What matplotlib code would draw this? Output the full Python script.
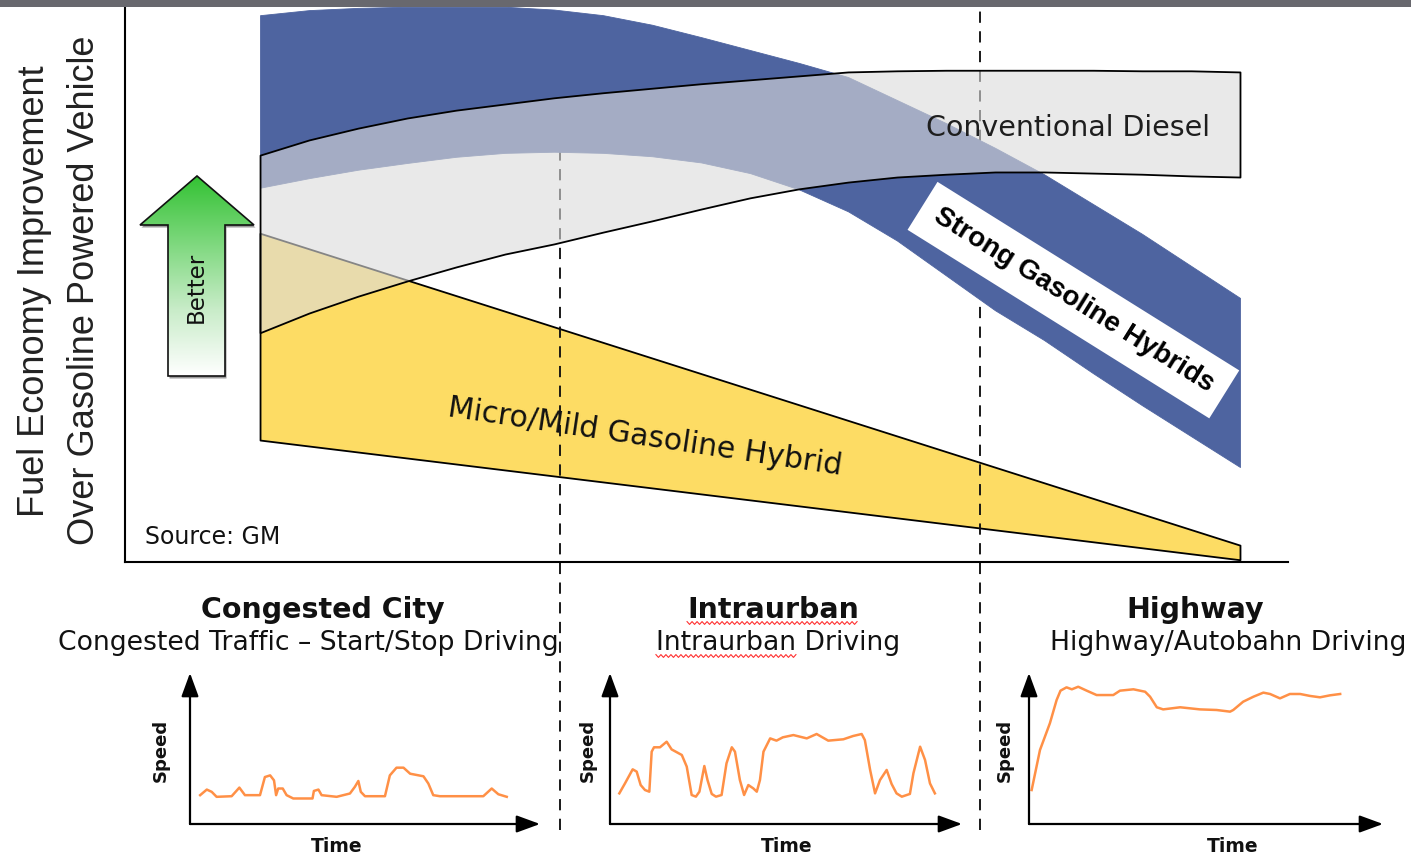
import numpy as np
import matplotlib
matplotlib.use("Agg")
import matplotlib.pyplot as plt
from matplotlib.patches import Polygon, Rectangle
from matplotlib.colors import LinearSegmentedColormap
from matplotlib.font_manager import FontProperties

W, H, DPI = 1411, 860, 100

# ---------------------------------------------------------------------------
# Fuel-economy bands over the driving cycle (0 = start/stop city, 100 = highway)
# ---------------------------------------------------------------------------
cycle_pos = np.arange(0, 101, 5)

strong_hybrid_upper = [97.3, 98.2, 98.6, 98.8, 98.8, 98.8, 98.3, 97.3, 95.6, 93.4,
                       91.1, 88.8, 86.3, 82.2, 78.1, 73.7, 69.0, 63.7, 58.4, 52.7, 47.0]
strong_hybrid_lower = [66.6, 68.3, 69.8, 71.0, 72.1, 72.8, 73.0, 72.8, 72.2, 71.1,
                       69.2, 66.3, 62.4, 57.2, 51.0, 44.8, 39.5, 33.6, 27.9, 22.4, 16.9]

diesel_upper = [72.4, 75.1, 77.2, 79.0, 80.4, 81.5, 82.6, 83.5, 84.3, 85.1,
                85.8, 86.5, 87.2, 87.4, 87.5, 87.5, 87.5, 87.5, 87.4, 87.4, 87.2]
diesel_lower = [40.8, 44.3, 47.3, 50.0, 52.5, 54.8, 56.6, 58.7, 60.7, 62.8,
                64.8, 66.4, 67.6, 68.5, 69.0, 69.4, 69.4, 69.2, 69.0, 68.7, 68.5]

mild_pos = [0, 100]
mild_upper = [58.5, 3.0]
mild_lower = [21.7, 0.4]

# boundaries between the three driving regimes
zone_edges = [30.6, 73.5]

zone_titles = ["Congested City", "Intraurban", "Highway"]
zone_subtitles = ["Congested Traffic \u2013 Start/Stop Driving",
                  "Intraurban Driving", "Highway/Autobahn Driving"]

# ---------------------------------------------------------------------------
# Typical speed traces for each regime (time %, speed %)
# ---------------------------------------------------------------------------
city_time = [2.9, 4.8, 6.2, 7.6, 11.9, 14.1, 15.7, 20.0, 21.4, 22.9,
             24.0, 24.6, 25.2, 26.5, 27.6, 29.5, 35.0, 35.4, 36.7, 37.6,
             41.9, 45.7, 47.1, 48.1, 48.8, 50.0, 55.7, 57.1, 59.0, 61.0,
             62.9, 66.7, 68.1, 69.5, 71.4, 83.8, 86.2, 88.1, 90.5]
city_speed = [19.1, 22.8, 21.3, 18.0, 18.4, 24.1, 19.1, 19.1, 31.1, 32.2,
              28.9, 19.1, 23.5, 23.5, 19.1, 16.9, 16.9, 21.9, 22.8, 19.1,
              18.0, 20.2, 24.6, 28.5, 21.3, 18.4, 18.4, 32.2, 37.3, 37.3,
              33.3, 31.6, 26.8, 19.1, 18.4, 18.4, 23.5, 19.7, 18.0]

urban_time = [2.65, 4.26, 6.44, 7.58, 8.71, 9.94, 11.17, 11.84, 12.5, 14.2,
              16.1, 17.5, 20.4, 21.8, 23.2, 24.4, 25.4, 26.8, 27.7, 28.9,
              30.1, 31.7, 33.1, 34.6, 35.5, 36.9, 38.1, 39.3, 40.7, 41.7,
              42.6, 43.6, 45.5, 47.3, 49.1, 52.1, 55.9, 58.7, 62.0, 66.3,
              69.1, 71.5, 72.4, 73.9, 75.3, 76.7, 78.6, 80.0, 81.4, 82.9,
              85.2, 86.2, 88.1, 89.5, 90.9, 92.3]
urban_speed = [20.3, 26.9, 36.2, 34.7, 25.8, 22.5, 21.4, 47.9, 50.8, 50.8,
               54.5, 49.4, 45.7, 38.0, 19.2, 18.1, 21.4, 38.4, 29.1, 19.9,
               18.1, 19.2, 40.2, 50.8, 47.9, 29.1, 19.2, 25.8, 23.6, 21.4,
               29.1, 47.9, 56.7, 55.2, 57.4, 58.9, 56.7, 59.6, 55.2, 56.1,
               58.3, 59.6, 55.6, 35.8, 20.3, 29.1, 35.8, 26.5, 20.3, 18.1,
               19.9, 33.6, 51.2, 42.4, 26.9, 20.3]

highway_time = [0.75, 3.1, 5.9, 7.8, 8.9, 10.6, 12.1, 13.9, 16.3, 19.1,
                23.8, 25.7, 29.5, 32.8, 34.2, 36.1, 37.9, 42.7, 48.3, 53.0,
                56.8, 57.7, 60.5, 63.4, 66.2, 68.1, 70.9, 73.7, 76.6, 79.4,
                82.2, 85.0, 87.9]
highway_speed = [22.5, 49.0, 66.7, 82.1, 88.3, 90.5, 89.2, 90.9, 88.3, 85.4,
                 85.4, 88.3, 89.2, 87.6, 84.3, 77.3, 75.9, 77.3, 75.9, 75.5,
                 74.4, 75.5, 81.0, 84.3, 87.0, 86.1, 83.2, 86.1, 86.1, 84.8,
                 83.9, 85.2, 86.1]

# ---------------------------------------------------------------------------
BLUE = "#4e64a0"
YELLOW = "#fddc64"
DIESEL = (0.858, 0.858, 0.858, 0.61)
ORANGE = "#ff8a3c"

fig = plt.figure(figsize=(W / DPI, H / DPI), dpi=DPI, facecolor="white")


def frac_x(px):
    return px / W


def frac_y(py):
    return 1 - py / H


# ---------------- main chart ----------------
ax = fig.add_axes([frac_x(125), frac_y(562), (1288 - 125) / W, 562 / H])
ax.set_xlim(-13.78, 104.9)
ax.set_ylim(0, 100)
for side in ("top", "right"):
    ax.spines[side].set_visible(False)
for side in ("left", "bottom"):
    ax.spines[side].set_linewidth(1.5)
    ax.spines[side].set_color("black")
ax.set_xticks([])
ax.set_yticks([])

ax.fill_between(mild_pos, mild_lower, mild_upper, facecolor=YELLOW,
                edgecolor="black", linewidth=1.3, zorder=1)

for xe in zone_edges:
    ax.axvline(xe, ymin=-0.477, ymax=0.99, color="#111111", lw=1.35,
               linestyle=(0, (6, 4.5)), clip_on=False, zorder=1.5)

ax.fill_between(cycle_pos, strong_hybrid_lower, strong_hybrid_upper,
                facecolor=BLUE, edgecolor=BLUE, linewidth=0.6, zorder=2)
ax.fill_between(cycle_pos, diesel_lower, diesel_upper, facecolor=DIESEL,
                edgecolor="black", linewidth=1.3, zorder=3)

ax.text(82.4, 77.2, "Conventional Diesel", ha="center", va="center",
        fontsize=20.5, color="#1e1e1e", zorder=5)
ax.text(39.3, 22.2, "Micro/Mild Gasoline Hybrid", ha="center", va="center",
        fontsize=21.5, rotation=-8.5, rotation_mode="anchor", color="#111111",
        zorder=5)
ax.text(83.0, 46.6, "Strong Gasoline Hybrids", ha="center", va="center",
        fontsize=20, fontweight="bold", family="Liberation Sans",
        rotation=-32, rotation_mode="anchor", color="black", zorder=5,
        bbox=dict(boxstyle="square,pad=0.55", facecolor="white",
                  edgecolor="none"))
ax.text(-11.7, 4.4, "Source: GM", ha="left", va="center", fontsize=17,
        color="#111111", zorder=5)

# axis title
fig.text(frac_x(35), frac_y(291), "Fuel Economy Improvement", rotation=90,
         ha="center", va="center", fontsize=26, family="Liberation Sans",
         color="#222222")
fig.text(frac_x(85), frac_y(290), "Over Gasoline Powered Vehicle", rotation=90,
         ha="center", va="center", fontsize=26, family="Liberation Sans",
         color="#222222")

# ---------------- regime headings ----------------
title_x = [323, 773, 1195]
subtitle_x = [308, 778, 1228]
SUB_SIZE = 19.2
title_objs, sub_objs = [], []
for tx, sx, t, s in zip(title_x, subtitle_x, zone_titles, zone_subtitles):
    title_objs.append(fig.text(frac_x(tx), frac_y(618), t, ha="center",
                               va="baseline", fontsize=20.5, fontweight="bold",
                               color="#111111"))
    sub_objs.append(fig.text(frac_x(sx), frac_y(650), s, ha="center",
                             va="baseline", fontsize=SUB_SIZE,
                             color="#111111"))

# ---------------- speed-trace panels ----------------
panels = [
    ((190, 540, 824, 673), city_time, city_speed, 0.42, -29),
    ((610, 962, 824, 673), urban_time, urban_speed, 0.503, -22),
    ((1029, 1383, 824, 673), highway_time, highway_speed, 0.576, -24),
]
arrow_style = dict(arrowstyle="-|>,head_length=0.6,head_width=0.22",
                   lw=1.6, color="black", shrinkA=0, shrinkB=0,
                   mutation_scale=24)
for (left, right, bottom, top), t, v, time_x, speed_dx in panels:
    pa = fig.add_axes([frac_x(left), frac_y(bottom), (right - left) / W,
                       (bottom - top) / H])
    pa.set_xlim(0, 100)
    pa.set_ylim(0, 100)
    pa.axis("off")
    pa.patch.set_alpha(0)
    pa.plot(t, v, color=ORANGE, lw=1.8, solid_joinstyle="round", alpha=0.95)
    pa.annotate("", xy=(0, 1), xytext=(0, 0), xycoords="axes fraction",
                arrowprops=arrow_style)
    pa.annotate("", xy=(1, 0), xytext=(0, 0), xycoords="axes fraction",
                arrowprops=arrow_style)
    pa.text(time_x, -0.152, "Time", transform=pa.transAxes, ha="center",
            va="center", fontsize=13.5, fontweight="bold", color="#111111")
    pa.annotate("Speed", xy=(0, 0.49), xycoords="axes fraction",
                xytext=(speed_dx, 0), textcoords="offset pixels", rotation=90,
                ha="center", va="center", fontsize=13, fontweight="bold",
                color="#111111")

# ---------------- overlay: header bar and "Better" arrow ----------------
deco = fig.add_axes([0, 0, 1, 1], zorder=10)
deco.axis("off")
deco.patch.set_alpha(0)

arrow_pts = [(197, 176), (254, 225), (225, 225), (225, 376), (168, 376),
             (168, 225), (140, 225)]
shadow = Polygon([(x + 1.5, y + 2.5) for x, y in arrow_pts], closed=True,
                 facecolor="#9a9a9a", edgecolor="none", zorder=0.2)
deco.add_patch(shadow)
green_cmap = LinearSegmentedColormap.from_list(
    "better", ["#34c234", "#7dd87d", "#c8ecc8", "#ffffff"])
grad = np.linspace(0, 1, 256)[:, None]
img = deco.imshow(grad, extent=(140, 254, 376, 176), cmap=green_cmap,
                  aspect="auto", interpolation="bilinear", zorder=0.5)
outline = Polygon(arrow_pts, closed=True, facecolor="none",
                  edgecolor="#111111", linewidth=1.2, zorder=0.8)
deco.add_patch(outline)
img.set_clip_path(outline)
deco.text(196, 287, "Better", rotation=90, ha="center", va="center",
          fontsize=16.5, color="#111111", zorder=1)

deco.add_patch(Rectangle((0, 0), W, 7, facecolor="#68686e", edgecolor="none",
                         zorder=3))
deco.set_xlim(0, W)
deco.set_ylim(H, 0)

# spell-check style squiggles under the word "Intraurban"
fig.canvas.draw()
renderer = fig.canvas.get_renderer()


def squiggle(x0, x1, y):
    xs = np.arange(x0, x1 + 0.1, 2.5)
    ys = y + 1.4 * np.where(np.arange(len(xs)) % 2 == 0, -1, 1)
    deco.plot(xs, ys, color="#ff3030", lw=0.8)


bb = title_objs[1].get_window_extent(renderer)
squiggle(bb.x0, bb.x1, 623)
bb = sub_objs[1].get_window_extent(renderer)
fp = FontProperties(size=SUB_SIZE)
wpx, _, _ = renderer.get_text_width_height_descent("Intraurban", fp,
                                                   ismath=False)
squiggle(bb.x0, bb.x0 + wpx, 656)
deco.set_xlim(0, W)
deco.set_ylim(H, 0)

fig.savefig("out.png", dpi=DPI, facecolor="white")
